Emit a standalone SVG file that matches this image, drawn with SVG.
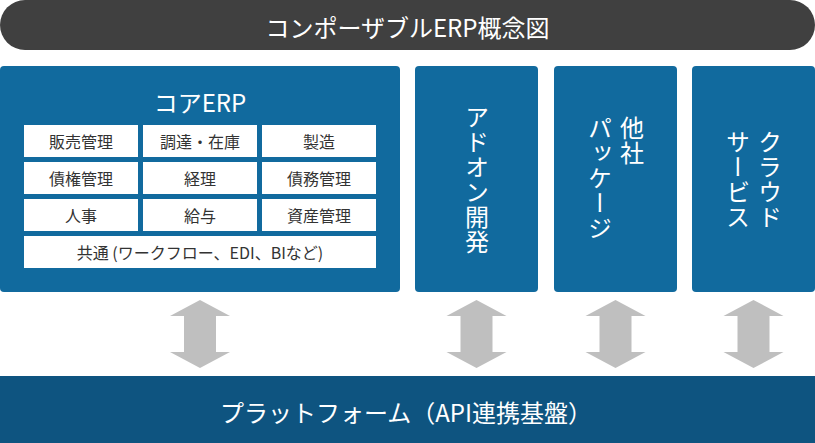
<svg xmlns="http://www.w3.org/2000/svg" width="815" height="443" viewBox="0 0 815 443">
<style>
  text { font-family: "Noto Sans CJK JP", "Noto Sans", sans-serif; }
  .blue { fill: #116a9e; }
  .cell { fill: #ffffff; }
  .ct { font-size: 16px; fill: #333333; text-anchor: middle; dominant-baseline: central; }
  .wt { fill: #ffffff; text-anchor: middle; dominant-baseline: central; }
  .vt { fill: #ffffff; font-size: 24px; letter-spacing: 1px; writing-mode: vertical-rl; }
  .arrow { fill: #bfbfbf; }
</style>
<rect width="815" height="443" fill="#ffffff"/>

<g id="title">
  <rect x="0" y="0" width="815" height="50" rx="25" fill="#404040"/>
  <text class="wt" x="407.5" y="26" font-size="24">コンポーザブルERP概念図</text>
</g>

<g id="core-erp">
  <rect class="blue" x="0" y="66" width="400" height="226" rx="4"/>
  <text class="wt" x="200" y="101" font-size="24">コアERP</text>
  <rect class="cell" x="24" y="125" width="114" height="32"/>
  <text class="ct" x="81" y="141">販売管理</text>
  <rect class="cell" x="143" y="125" width="114" height="32"/>
  <text class="ct" x="200" y="141">調達・在庫</text>
  <rect class="cell" x="262" y="125" width="114" height="32"/>
  <text class="ct" x="319" y="141">製造</text>
  <rect class="cell" x="24" y="162" width="114" height="32"/>
  <text class="ct" x="81" y="178">債権管理</text>
  <rect class="cell" x="143" y="162" width="114" height="32"/>
  <text class="ct" x="200" y="178">経理</text>
  <rect class="cell" x="262" y="162" width="114" height="32"/>
  <text class="ct" x="319" y="178">債務管理</text>
  <rect class="cell" x="24" y="199" width="114" height="32"/>
  <text class="ct" x="81" y="215">人事</text>
  <rect class="cell" x="143" y="199" width="114" height="32"/>
  <text class="ct" x="200" y="215">給与</text>
  <rect class="cell" x="262" y="199" width="114" height="32"/>
  <text class="ct" x="319" y="215">資産管理</text>
  <rect class="cell" x="24" y="236" width="352" height="32"/>
  <text class="ct" x="200" y="252">共通 (ワークフロー、EDI、BIなど)</text>
</g>

<g id="addon">
  <rect class="blue" x="415" y="66" width="123" height="226" rx="4"/>
  <text class="vt" x="477" y="105">アドオン開発</text>
</g>

<g id="other-package">
  <rect class="blue" x="554" y="66" width="123" height="226" rx="4"/>
  <text class="vt" x="632" y="116">他社</text>
  <text class="vt" x="600" y="116">パッケージ</text>
</g>

<g id="cloud">
  <rect class="blue" x="692" y="66" width="123" height="226" rx="4"/>
  <text class="vt" x="770" y="130">クラウド</text>
  <text class="vt" x="738" y="130">サービス</text>
</g>

<g id="platform">
  <rect x="0" y="376" width="815" height="67" fill="#0e5480"/>
  <text class="wt" x="406" y="411" font-size="24">プラットフォーム（API連携基盤）</text>
</g>

<g id="connectors">
  <polygon class="arrow" points="200,300 230,316 216,316 216,352 230,352 200,368 170,352 184,352 184,316 170,316"/>
  <polygon class="arrow" points="476.5,300 506.5,316 492.5,316 492.5,352 506.5,352 476.5,368 446.5,352 460.5,352 460.5,316 446.5,316"/>
  <polygon class="arrow" points="615.5,300 645.5,316 631.5,316 631.5,352 645.5,352 615.5,368 585.5,352 599.5,352 599.5,316 585.5,316"/>
  <polygon class="arrow" points="753.5,300 783.5,316 769.5,316 769.5,352 783.5,352 753.5,368 723.5,352 737.5,352 737.5,316 723.5,316"/>
</g>
</svg>
